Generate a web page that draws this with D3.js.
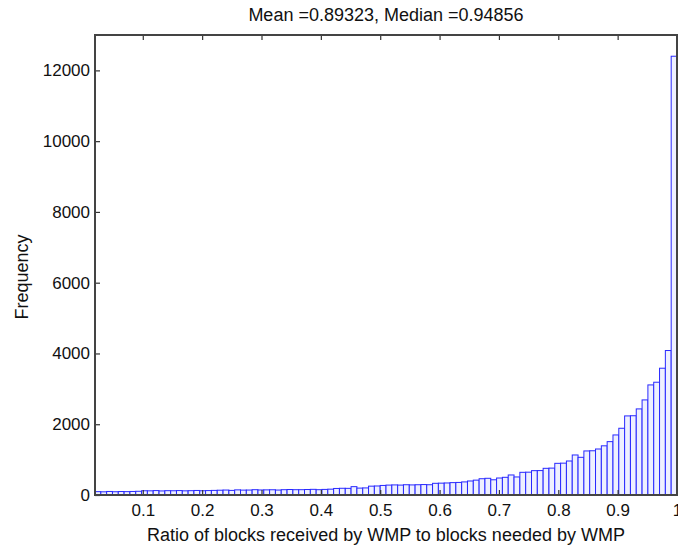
<!DOCTYPE html>
<html>
<head>
<meta charset="utf-8">
<script src="https://cdn.jsdelivr.net/npm/d3@7"></script>
<style>
  body { margin: 0; background: #fff; }
  text { font-family: "Liberation Sans", Arial, Helvetica, sans-serif; fill: #111; }
</style>
</head>
<body>
<div id="chart"></div>
<script>
// histogram: 100 equal bins from the smallest ratio up to 1
const binStart = 0.0195;
const binEnd = 1;
const counts = [
  95, 90, 100, 92, 98, 95, 100, 105,
  120, 118, 125, 115, 122, 120, 125, 118, 122, 128, 120, 125, 130,
  135, 140, 130, 145, 138, 140, 150, 142, 145, 148, 140, 150, 155, 150,
  150, 155, 160, 150, 158, 165,
  185, 190, 188, 236, 195, 200, 250, 255,
  270, 280, 285, 280, 290, 285, 290, 295, 290,
  330, 335, 340, 350, 355, 370, 396, 420, 460, 472, 430, 480,
  500, 566, 510, 641, 645, 688, 690, 754, 760, 895,
  900, 961, 1131, 1065, 1245, 1250, 1300, 1390, 1508, 1697,
  1886, 2235, 2240, 2433, 2687, 3111, 3187, 3583, 4083, 12400
];
const xTicks = [0.1, 0.2, 0.3, 0.4, 0.5, 0.6, 0.7, 0.8, 0.9, 1];
const yTicks = [0, 2000, 4000, 6000, 8000, 10000, 12000];
const titleText = 'Mean =0.89323, Median =0.94856';
const xLabel = 'Ratio of blocks received by WMP to blocks needed by WMP';
const yLabel = 'Frequency';

const width = 678, height = 546;
const margin = { top: 35, right: 1, bottom: 51, left: 95 };

const binWidth = (binEnd - binStart) / counts.length;
const bins = counts.map((c, i) => ({
  x0: binStart + i * binWidth,
  x1: binStart + (i + 1) * binWidth,
  count: c
}));

const x = d3.scaleLinear()
  .domain([binStart, binEnd])
  .range([margin.left, width - margin.right]);

const y = d3.scaleLinear()
  .domain([0, 13000])
  .range([height - margin.bottom, margin.top]);

const svg = d3.select('#chart')
  .append('svg')
  .attr('width', width)
  .attr('height', height);

// bars
svg.append('g')
  .selectAll('rect')
  .data(bins)
  .enter().append('rect')
  .attr('x', d => x(d.x0))
  .attr('y', d => y(d.count))
  .attr('width', d => x(d.x1) - x(d.x0))
  .attr('height', d => y(0) - y(d.count))
  .attr('fill', '#eef0ff')
  .attr('stroke', '#2828ff')
  .attr('stroke-width', 1);

// axes, matlab style: ticks pointing inward, box round the plot
const tickFont = 17, labelFont = 18;

svg.append('g')
  .attr('transform', `translate(0, ${y(0)})`)
  .call(d3.axisBottom(x).tickValues(xTicks).tickSizeInner(-5).tickSizeOuter(0).tickPadding(9)
    .tickFormat(d => d === 1 ? '1' : d3.format('.1f')(d)))
  .call(g => g.select('.domain').remove())
  .call(g => g.selectAll('text').style('font-size', tickFont + 'px'));

svg.append('g')
  .attr('transform', `translate(0, ${margin.top})`)
  .call(d3.axisTop(x).tickValues(xTicks).tickSizeInner(-5).tickSizeOuter(0).tickFormat(''))
  .call(g => g.select('.domain').remove());

svg.append('g')
  .attr('transform', `translate(${margin.left}, 0)`)
  .call(d3.axisLeft(y).tickValues(yTicks).tickSizeInner(-5).tickSizeOuter(0).tickPadding(5)
    .tickFormat(d3.format('d')))
  .call(g => g.select('.domain').remove())
  .call(g => g.selectAll('text').style('font-size', tickFont + 'px'));

svg.selectAll('.tick line').attr('stroke', '#333').attr('stroke-width', 1.2);

svg.append('rect')
  .attr('x', margin.left)
  .attr('y', margin.top)
  .attr('width', width - margin.right - margin.left)
  .attr('height', y(0) - margin.top)
  .attr('fill', 'none')
  .attr('stroke', '#444')
  .attr('stroke-width', 2);

// texts
svg.append('text')
  .attr('x', (margin.left + width - margin.right) / 2)
  .attr('y', 21)
  .attr('text-anchor', 'middle')
  .style('font-size', labelFont + 'px')
  .text(titleText);

svg.append('text')
  .attr('x', (margin.left + width - margin.right) / 2)
  .attr('y', 541)
  .attr('text-anchor', 'middle')
  .style('font-size', labelFont + 'px')
  .text(xLabel);

svg.append('text')
  .attr('transform', `translate(28, ${(margin.top + y(0)) / 2 + 12}) rotate(-90)`)
  .attr('text-anchor', 'middle')
  .style('font-size', labelFont + 'px')
  .text(yLabel);
</script>
</body>
</html>
